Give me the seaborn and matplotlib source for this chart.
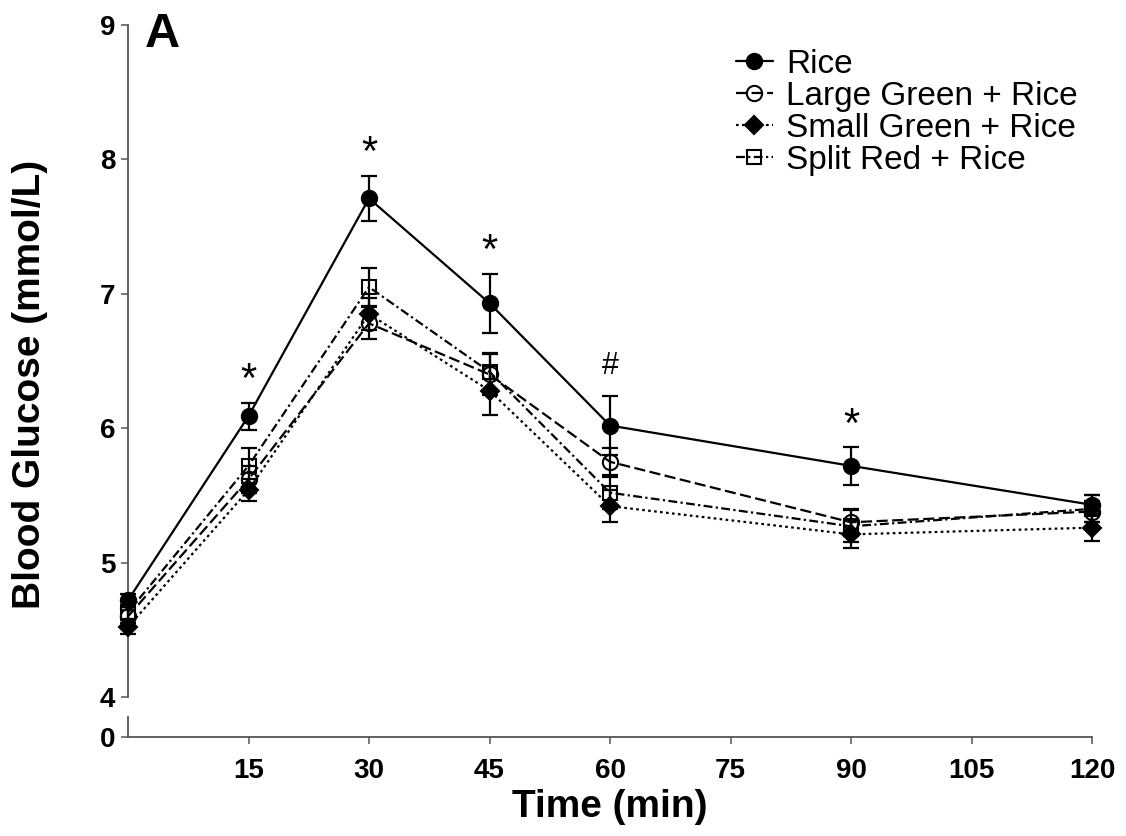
import matplotlib
matplotlib.use("Agg")
import matplotlib.pyplot as plt
import seaborn as sns
import pandas as pd

# ---------------- data ----------------
time_min = [0, 15, 30, 45, 60, 90, 120]
series_names = ["Rice", "Large Green + Rice", "Small Green + Rice", "Split Red + Rice"]

rice = [4.72, 6.09, 7.71, 6.93, 6.02, 5.72, 5.43]
rice_err = [0.05, 0.10, 0.17, 0.22, 0.22, 0.14, 0.07]

large_green = [4.60, 5.62, 6.78, 6.40, 5.75, 5.30, 5.38]
large_green_err = [0.05, 0.10, 0.12, 0.15, 0.10, 0.10, 0.08]

small_green = [4.52, 5.54, 6.85, 6.28, 5.42, 5.21, 5.26]
small_green_err = [0.05, 0.08, 0.12, 0.18, 0.12, 0.10, 0.10]

split_red = [4.63, 5.72, 7.05, 6.42, 5.52, 5.27, 5.40]
split_red_err = [0.05, 0.13, 0.14, 0.14, 0.12, 0.12, 0.10]

x_ticks = [15, 30, 45, 60, 75, 90, 105, 120]
y_ticks_top = [4, 5, 6, 7, 8, 9]
y_ticks_bottom = [0]

sig_times = [15, 30, 45, 60, 90]
sig_labels = ["*", "*", "*", "#", "*"]

panel_label = "A"
x_label = "Time (min)"
y_label = "Blood Glucose (mmol/L)"

# ---------------- style ----------------
sns.set_style("ticks")
plt.rcParams["font.family"] = ["Liberation Sans", "DejaVu Sans"]
plt.rcParams["text.color"] = "black"
plt.rcParams["axes.labelcolor"] = "black"
plt.rcParams["xtick.labelcolor"] = "black"
plt.rcParams["ytick.labelcolor"] = "black"

values = [rice, large_green, small_green, split_red]
errors = [rice_err, large_green_err, small_green_err, split_red_err]
styles = [
    dict(linestyle="-", marker="o", mfc="black", ms=11),
    dict(linestyle=(0, (5, 2)), marker="o", mfc="none", ms=11),
    dict(linestyle=(0, (1.2, 1.5)), marker="D", mfc="black", ms=9),
    dict(linestyle=(0, (4, 1.5, 1, 1.5)), marker="s", mfc="none", ms=10),
]
zorders = [6, 4, 3, 5]

W, H = 1126, 836
fig = plt.figure(figsize=(W / 100, H / 100), dpi=100)
ax = fig.add_axes([128 / W, 1 - 697 / H, 964 / W, (697 - 25) / H])
axb = fig.add_axes([128 / W, 1 - 737 / H, 964 / W, 20 / H], sharex=ax)

rows = []
for name, v, e in zip(series_names, values, errors):
    for t, y, er in zip(time_min, v, e):
        rows.append({"time": t, "glucose": y, "err": er, "group": name})
df = pd.DataFrame(rows)

for name, st, z in zip(series_names, styles, zorders):
    sub = df[df["group"] == name]
    sns.lineplot(data=sub, x="time", y="glucose", ax=ax, color="black",
                 linestyle=st["linestyle"], marker=st["marker"],
                 markerfacecolor=st["mfc"], markeredgecolor="black",
                 markeredgewidth=1.5, markersize=st["ms"], linewidth=1.6,
                 errorbar=None, label=name, zorder=z, clip_on=False)
    ax.errorbar(sub["time"], sub["glucose"], yerr=sub["err"], fmt="none",
                ecolor="black", elinewidth=1.6, capsize=6, capthick=1.6,
                zorder=z - 0.5, clip_on=False)

# significance marks
sig_df = df[(df["group"] == "Rice") & (df["time"].isin(sig_times))]
for t, lab in zip(sig_times, sig_labels):
    r = sig_df[sig_df["time"] == t].iloc[0]
    ax.annotate(lab, (t, r["glucose"] + r["err"]),
                xytext=(0, 1 if lab == "*" else 11),
                textcoords="offset points", ha="center", va="bottom",
                fontsize=30 if lab == "*" else 22, color="black")

ax.set_xlim(0, 120)
ax.set_ylim(4, 9)
ax.set_yticks(y_ticks_top)
ax.set_xlabel("")
ax.set_ylabel("")
ax.tick_params(axis="x", bottom=False, labelbottom=False)
for s in ["top", "right", "bottom"]:
    ax.spines[s].set_visible(False)

axb.set_ylim(0, 1)
axb.set_yticks(y_ticks_bottom)
axb.set_xticks(x_ticks)
for s in ["top", "right"]:
    axb.spines[s].set_visible(False)
axb.patch.set_alpha(0)

for a in (ax, axb):
    for s in ["left", "bottom"]:
        a.spines[s].set_color("#555555")
        a.spines[s].set_linewidth(1.3)
    a.tick_params(axis="both", length=5, width=1.1, color="#555555",
                  labelsize=20, pad=4, labelcolor="black")
    for lab in a.get_xticklabels() + a.get_yticklabels():
        lab.set_fontweight("bold")
axb.tick_params(axis="x", pad=10)

axb.set_xlabel(x_label, fontsize=28, fontweight="bold", labelpad=4,
               color="black")
fig.text(30 / W, 1 - 384 / H, y_label, rotation=90, fontsize=28,
         fontweight="bold", ha="center", va="center", color="black")
fig.text(145 / W, 1 - 47 / H, panel_label, fontsize=35, fontweight="bold",
         ha="left", va="baseline", color="black")

leg = ax.legend(loc="upper left", bbox_to_anchor=(736 / W, 1 - 49 / H),
                bbox_transform=fig.transFigure, frameon=False, fontsize=24,
                handlelength=1.1, handletextpad=0.4, labelspacing=0.03,
                borderpad=0, borderaxespad=0)
for txt in leg.get_texts():
    txt.set_color("black")

fig.savefig("out.png", dpi=100)
